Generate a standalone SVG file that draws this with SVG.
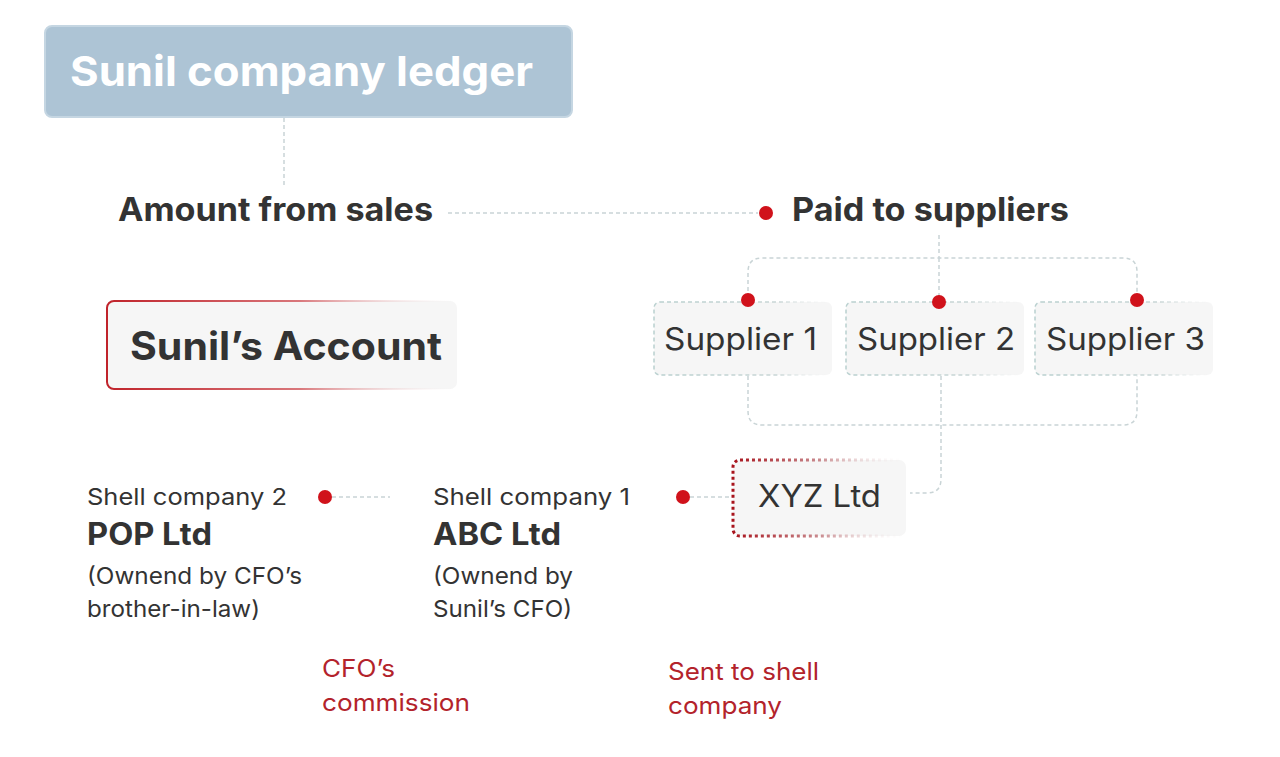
<svg xmlns="http://www.w3.org/2000/svg" width="1280" height="757" viewBox="0 0 1280 757">
<defs>
<linearGradient id="redFade" x1="0" y1="0" x2="1" y2="0">
<stop offset="0" stop-color="#c0232b"/>
<stop offset="0.55" stop-color="#d9777b"/>
<stop offset="1" stop-color="#f6f6f6" stop-opacity="0"/>
</linearGradient>
<linearGradient id="xyzFade" x1="0" y1="0" x2="1" y2="0">
<stop offset="0" stop-color="#a8131c"/>
<stop offset="0.5" stop-color="#c98a8e"/>
<stop offset="1" stop-color="#f6f6f6" stop-opacity="0"/>
</linearGradient>
<linearGradient id="tealFade" x1="0" y1="0" x2="1" y2="0">
<stop offset="0" stop-color="#b9d0cf"/>
<stop offset="0.7" stop-color="#c9d6d6"/>
<stop offset="1" stop-color="#f6f6f6" stop-opacity="0"/>
</linearGradient>
</defs>
<style>
text{font-family:Inter,"Liberation Sans",sans-serif;fill:#333}
.b{font-weight:700}
.big{font-size:32px}
.mid{font-size:31px}
.sm{font-size:23px}
.red{fill:#b3232b;font-size:24px}
.conn{fill:none;stroke:#c9d4d6;stroke-width:1.5;stroke-dasharray:4 3}
.dot{fill:#d0121b}
.sup{fill:#f6f6f6;stroke:url(#tealFade);stroke-width:1.5;stroke-dasharray:4 3}
</style>
<rect width="1280" height="757" fill="#ffffff"/>
<g id="connectors">
<path class="conn" d="M284 118V186"/>
<path class="conn" d="M448 213H758"/>
<path class="conn" d="M939 235V258"/>
<path class="conn" d="M748 298V272Q748 258 762 258H1123Q1137 258 1137 272V298"/>
<path class="conn" d="M939 258V300"/>
<path class="conn" d="M748 376V411Q748 425 762 425H1123Q1137 425 1137 411V376"/>
<path class="conn" d="M941 376V479Q941 493 927 493H910"/>
<path class="conn" d="M690 497H733"/>
<path class="conn" d="M332 497H390"/>
</g>
<g id="ledger">
<rect x="45" y="26" width="527" height="91" rx="7" fill="#adc4d5" stroke="#c5d6e2" stroke-width="2"/>
<text x="70" y="86" class="b" style="font-size:41px;fill:#ffffff" textLength="463" lengthAdjust="spacingAndGlyphs">Sunil company ledger</text>
</g>
<g id="amount">
<text x="118" y="221" class="b big" textLength="315" lengthAdjust="spacingAndGlyphs">Amount from sales</text>
</g>
<g id="paid">
<circle class="dot" cx="766" cy="213" r="7"/>
<text x="792" y="221" class="b big" textLength="277" lengthAdjust="spacingAndGlyphs">Paid to suppliers</text>
</g>
<g id="account">
<rect x="107" y="301" width="350" height="88" rx="7" fill="#f6f6f6" stroke="url(#redFade)" stroke-width="2"/>
<text x="130" y="360" class="b" style="font-size:39px" textLength="312" lengthAdjust="spacingAndGlyphs">Sunil’s Account</text>
</g>
<g id="supplier1">
<rect class="sup" x="654" y="302" width="178" height="73" rx="6"/>
<circle class="dot" cx="748" cy="300" r="7"/>
<text x="664" y="350" class="mid" textLength="153" lengthAdjust="spacingAndGlyphs">Supplier 1</text>
</g>
<g id="supplier2">
<rect class="sup" x="846" y="302" width="178" height="73" rx="6"/>
<circle class="dot" cx="939" cy="302" r="7"/>
<text x="857" y="350" class="mid" textLength="158" lengthAdjust="spacingAndGlyphs">Supplier 2</text>
</g>
<g id="supplier3">
<rect class="sup" x="1035" y="302" width="178" height="73" rx="6"/>
<circle class="dot" cx="1137" cy="300" r="7"/>
<text x="1046" y="350" class="mid" textLength="159" lengthAdjust="spacingAndGlyphs">Supplier 3</text>
</g>
<g id="xyz">
<rect x="733" y="460" width="173" height="76" rx="7" fill="#f6f6f6" stroke="url(#xyzFade)" stroke-width="3" stroke-dasharray="3 3"/>
<text x="758" y="507" class="mid" textLength="123" lengthAdjust="spacingAndGlyphs">XYZ Ltd</text>
</g>
<g id="shell1">
<circle class="dot" cx="683" cy="497" r="7"/>
<text x="433" y="505" class="sm" textLength="197" lengthAdjust="spacingAndGlyphs">Shell company 1</text>
<text x="433" y="545" class="b mid" textLength="128" lengthAdjust="spacingAndGlyphs">ABC Ltd</text>
<text x="433" y="584" class="sm" textLength="140" lengthAdjust="spacingAndGlyphs">(Ownend by</text>
<text x="433" y="617" class="sm" textLength="139" lengthAdjust="spacingAndGlyphs">Sunil’s CFO)</text>
</g>
<g id="shell2">
<circle class="dot" cx="325" cy="497" r="7"/>
<text x="87" y="505" class="sm" textLength="200" lengthAdjust="spacingAndGlyphs">Shell company 2</text>
<text x="87" y="545" class="b mid" textLength="125" lengthAdjust="spacingAndGlyphs">POP Ltd</text>
<text x="87" y="584" class="sm" textLength="215" lengthAdjust="spacingAndGlyphs">(Ownend by CFO’s</text>
<text x="87" y="617" class="sm" textLength="173" lengthAdjust="spacingAndGlyphs">brother-in-law)</text>
</g>
<g id="labels">
<text x="322" y="677" class="red" textLength="73" lengthAdjust="spacingAndGlyphs">CFO’s</text>
<text x="322" y="711" class="red" textLength="148" lengthAdjust="spacingAndGlyphs">commission</text>
<text x="668" y="680" class="red" textLength="151" lengthAdjust="spacingAndGlyphs">Sent to shell</text>
<text x="668" y="714" class="red" textLength="114" lengthAdjust="spacingAndGlyphs">company</text>
</g>
</svg>
